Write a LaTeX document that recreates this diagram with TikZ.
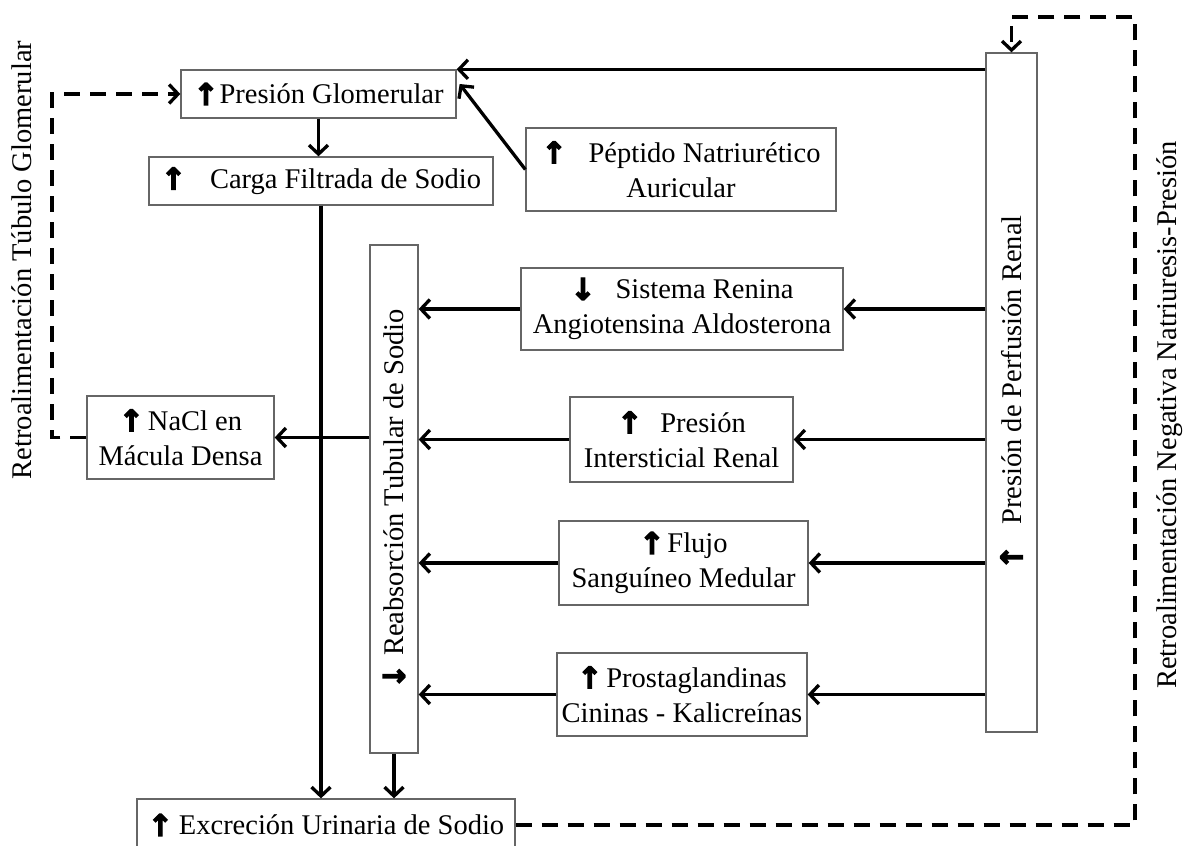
\documentclass[tikz,border=0pt]{standalone}
\usepackage{fontspec}
\setmainfont{Liberation Serif}
\newfontfamily\arrfont{DejaVu Sans}[FakeBold=4]
\usetikzlibrary{arrows.meta,calc}
\newcommand\arrU{{\arrfont\bfseries\fontsize{30}{30}\selectfont\raisebox{-1pt}{↑}}}
\newcommand\arrD{{\arrfont\bfseries\fontsize{30}{30}\selectfont\raisebox{-1pt}{↓}}}
\begin{document}
\begin{tikzpicture}[x=1pt,y=-1pt,
  box/.style={draw=black!60, line width=1.3pt, align=center, inner sep=0pt,
              font=\fontsize{28.5}{35}\selectfont},
  conn/.style={line width=3.3pt, -{Straight Barb[length=9pt,width=19pt]}},
  fb/.style={line width=3.3pt, dash pattern=on 16pt off 10pt,
             -{Straight Barb[length=9pt,width=19pt]}},
  side/.style={rotate=90, inner sep=0pt, font=\fontsize{28.5}{35}\selectfont}]
\clip (0,0) rectangle (1187,846);
\fill[white] (0,0) rectangle (1187,846);

\node[box, minimum width=275, minimum height=48] (pg) at (318.5,94) {\arrU\hspace{1pt}Presión Glomerular};
\node[box, minimum width=344, minimum height=48] (cf) at (321,181) {\arrU\hspace{24pt}Carga Filtrada de Sodio};
\node[box, minimum width=310, minimum height=83] (pna) at (681,169.5) {\arrU\hspace{22pt}Péptido Natriurético\\Auricular};
\node[box, rotate=90, minimum width=679, minimum height=51] (ppr) at (1011.5,392.5) {\arrU\hspace{20pt}Presión de Perfusión Renal};
\node[box, rotate=90, minimum width=508, minimum height=48] (rts) at (394,499) {\arrD\hspace{8pt}Reabsorción Tubular de Sodio};
\node[box, minimum width=322, minimum height=82] (sraa) at (682,309) {\arrD\hspace{20pt}Sistema Renina\\Angiotensina Aldosterona};
\node[box, minimum width=223, minimum height=85] (pir) at (681.5,439.5) {\arrU\hspace{18pt}Presión\\Intersticial Renal};
\node[box, minimum width=249, minimum height=84] (fsm) at (683.5,563) {\arrU\hspace{3pt}Flujo\\Sanguíneo Medular};
\node[box, minimum width=250, minimum height=83] (pck) at (682,694.5) {\arrU\hspace{4pt}Prostaglandinas\\Cininas - Kalicreínas};
\node[box, minimum width=187, minimum height=83] (nacl) at (180.5,437.5) {\arrU\hspace{4pt}NaCl en\\Mácula Densa};
\node[box, minimum width=378, minimum height=52] (eus) at (326,825) {\arrU\hspace{6pt}Excreción Urinaria de Sodio};

\node[side] (lbl1) at (22,260) {Retroalimentación Túbulo Glomerular};
\node[side] (lbl2) at (1170,415) {Retroalimentación Negativa Natriuresis-Presión};

\coordinate (dl) at (52,95);
\coordinate (dr) at (1135,17);

\draw[conn] (ppr.north |- pg.north east) -- (pg.north east);
\draw[conn] (pna.west) -- ($(pg.east)+(3,-10)$);
\draw[conn] (pg.south) -- (pg.south |- cf.north);
\draw[conn] (cf.south) -- (cf.south |- eus.north);
\draw[conn] (rts.west) -- (rts.west |- eus.north);
\draw[conn] (rts.north |- nacl.east) -- (nacl.east);
\draw[conn] (ppr.north |- sraa.east) -- (sraa.east);
\draw[conn] (sraa.west) -- (rts.south |- sraa.west);
\draw[conn] (ppr.north |- pir.east) -- (pir.east);
\draw[conn] (pir.west) -- (rts.south |- pir.west);
\draw[conn] (ppr.north |- fsm.east) -- (fsm.east);
\draw[conn] (fsm.west) -- (rts.south |- fsm.west);
\draw[conn] (ppr.north |- pck.east) -- (pck.east);
\draw[conn] (pck.west) -- (rts.south |- pck.west);

\draw[fb] (nacl.west) -- (nacl.west -| dl) -- (dl |- pg.west) -- (pg.west);
\draw[fb] (eus.east) -- (eus.east -| dr) -- (dr) -- (ppr.east |- dr) -- (ppr.east);
\end{tikzpicture}
\end{document}
